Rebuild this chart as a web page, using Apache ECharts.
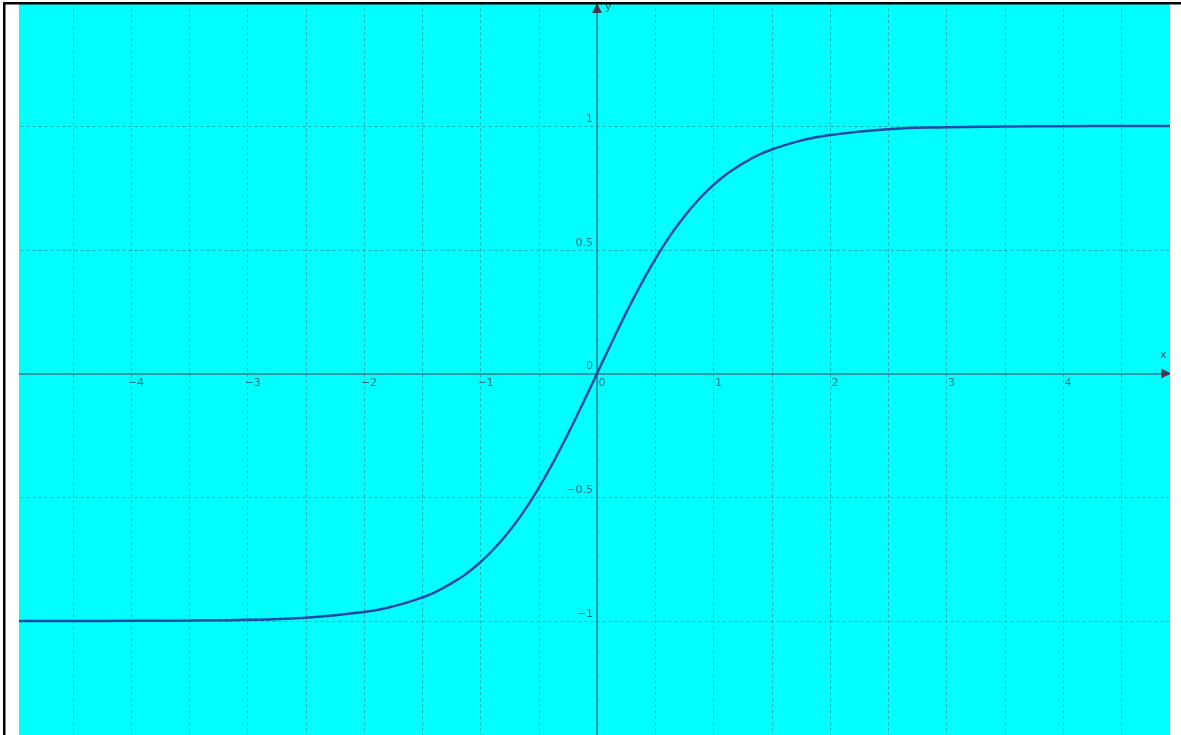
<!DOCTYPE html>
<html>
<head>
<meta charset="utf-8">
<script src="https://cdn.jsdelivr.net/npm/echarts@6/dist/echarts.min.js"></script>
<style>
html,body{margin:0;padding:0;background:#fff;}
#c{width:1181px;height:735px;}
</style>
</head>
<body>
<div id="c"></div>
<script>
// Curve samples
const curveX = [-5, -4.5, -4, -3.5, -3, -2.5, -2, -1.75, -1.5, -1.375, -1.25, -1.125, -1, -0.875, -0.75, -0.625, -0.5, -0.375, -0.25, -0.125, 0, 0.125, 0.25, 0.375, 0.5, 0.625, 0.75, 0.875, 1, 1.125, 1.25, 1.375, 1.5, 1.75, 2, 2.5, 3, 3.5, 4, 4.5, 5];
const curveY = [-1.0, -1.0, -0.999, -0.998, -0.995, -0.987, -0.964, -0.941, -0.905, -0.880, -0.848, -0.810, -0.762, -0.704, -0.635, -0.555, -0.462, -0.358, -0.245, -0.124, 0, 0.124, 0.245, 0.358, 0.462, 0.555, 0.635, 0.704, 0.762, 0.810, 0.848, 0.880, 0.905, 0.941, 0.964, 0.987, 0.995, 0.998, 0.999, 1.0, 1.0];
const xTickValues = [-4, -3, -2, -1, 0, 1, 2, 3, 4];
const xTickLabels = ['−4', '−3', '−2', '−1', '0', '1', '2', '3', '4'];
const yTickValues = [-1, -0.5, 0, 0.5, 1];
const yTickLabels = ['−1', '−0.5', '0', '0.5', '1'];
const xArrow = [[4.885, 0]];
const yArrow = [[0, 1.477]];

const curveData = curveX.map((x, i) => [x, curveY[i]]);
const xLabelData = xTickValues.map((v, i) => ({value: [v, 0], name: xTickLabels[i]}));
const yLabelData = yTickValues.map((v, i) => ({value: [0, v], name: yTickLabels[i]}));

const labelFont = {color: '#2a4a5a', fontSize: 11, fontFamily: 'DejaVu Sans'};

const chart = echarts.init(document.getElementById('c'), null, {renderer: 'canvas'});
const gridColor = 'rgba(40,110,120,0.55)';
chart.setOption({
  animation: false,
  backgroundColor: '#ffffff',
  grid: {
    left: 14.5, top: 2.25, width: 1165, height: 742.5,
    show: true, backgroundColor: '#00ffff', borderWidth: 0,
    containLabel: false, outerBoundsMode: 'none'
  },
  xAxis: {
    type: 'value', min: -5, max: 5, interval: 0.5,
    axisLine: {onZero: true, lineStyle: {color: '#2f7f8a', width: 1.5}},
    axisTick: {show: false},
    splitLine: {show: true, lineStyle: {color: gridColor, type: [3, 3], width: 1}},
    axisLabel: {show: false}
  },
  yAxis: {
    type: 'value', min: -1.5, max: 1.5, interval: 0.5,
    axisLine: {onZero: true, lineStyle: {color: '#2f7f8a', width: 1.5}},
    axisTick: {show: false},
    splitLine: {show: true, lineStyle: {color: gridColor, type: [3, 3], width: 1}},
    axisLabel: {show: false}
  },
  series: [
    {
      type: 'line', data: curveData, smooth: true, showSymbol: false,
      lineStyle: {color: '#1e48a8', width: 2.5}, z: 3
    },
    {
      type: 'scatter', data: xLabelData, symbolSize: 0, silent: true, z: 5,
      label: Object.assign({show: true, position: 'bottom', distance: 4, offset: [5, 0],
        formatter: p => p.name}, labelFont)
    },
    {
      type: 'scatter', data: yLabelData, symbolSize: 0, silent: true, z: 5,
      label: Object.assign({show: true, position: 'left', distance: 4, offset: [0, -7],
        formatter: p => p.name}, labelFont)
    },
    {
      type: 'scatter', data: xArrow, symbol: 'triangle', symbolRotate: -90,
      symbolSize: [10, 10], itemStyle: {color: '#5a0f2a'}, z: 4, silent: true
    },
    {
      type: 'scatter', data: yArrow, symbol: 'triangle',
      symbolSize: [10, 10], itemStyle: {color: '#5a0f2a'}, z: 4, silent: true
    }
  ],
  graphic: [
    {type: 'rect', shape: {x: 5, y: 4, width: 14, height: 731}, style: {fill: '#ffffff'}, z: 100},
    {type: 'rect', shape: {x: 1170, y: 4, width: 11, height: 731}, style: {fill: '#ffffff'}, z: 100},
    {type: 'rect', shape: {x: 3, y: 2, width: 1178, height: 2.5}, style: {fill: '#000000'}, z: 101},
    {type: 'rect', shape: {x: 3, y: 2, width: 2.5, height: 733}, style: {fill: '#000000'}, z: 101},
    {type: 'text', x: 1160, y: 350, style: {text: 'x', fill: '#2a4a5a', fontSize: 11, fontFamily: 'DejaVu Sans'}, z: 102},
    {type: 'text', x: 605, y: 2, style: {text: 'y', fill: '#2a4a5a', fontSize: 11, fontFamily: 'DejaVu Sans'}, z: 102}
  ]
});
</script>
</body>
</html>
